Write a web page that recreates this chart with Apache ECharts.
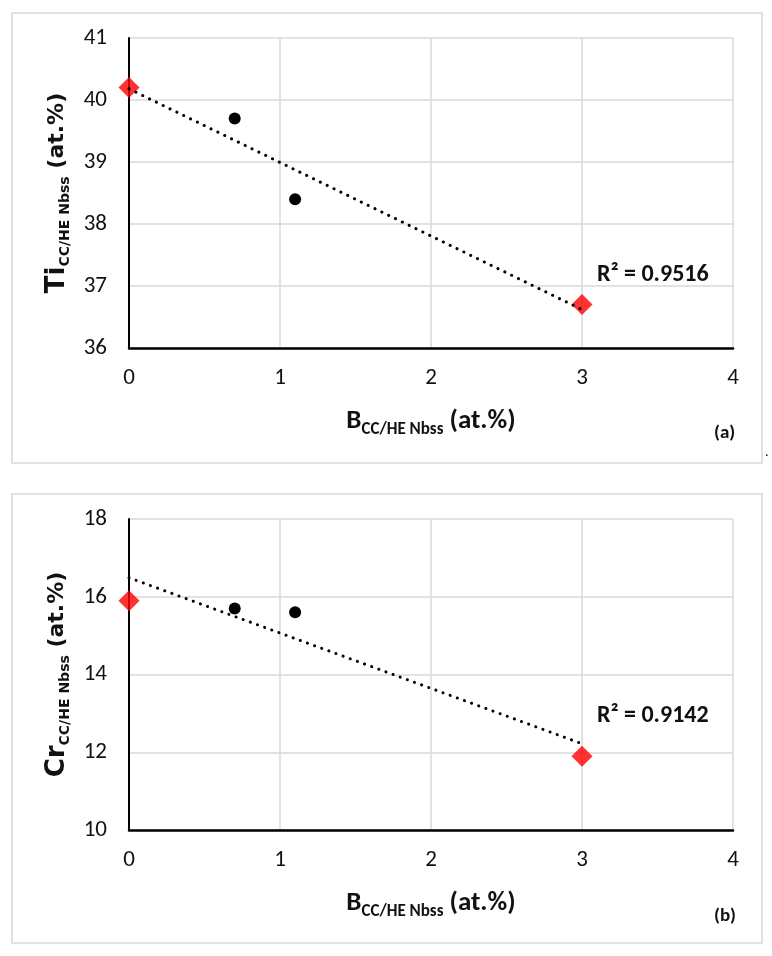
<!DOCTYPE html>
<html>
<head>
<meta charset="utf-8">
<script src="https://cdn.jsdelivr.net/npm/echarts@6/dist/echarts.min.js"></script>
<style>
html,body{margin:0;padding:0;background:#fff;}
#chart{width:772px;height:956px;}
</style>
</head>
<body>
<div id="chart"></div>
<script>
// ---- data ----
const xDiamond = [0, 3];
const xCircle = [0.7, 1.1];
const tiDiamond = [40.2, 36.7];
const tiCircle = [39.7, 38.4];
const crDiamond = [15.9, 11.9];
const crCircle = [15.7, 15.6];
const trendX = [0, 3];
const tiTrend = [40.18, 36.62];
const crTrend = [16.49, 12.22];
const r2Labels = ['R² = 0.9516', 'R² = 0.9142'];
const panelTags = ['(a)', '(b)'];
const yNames = ['Ti', 'Cr'];
const xAxisRange = [0, 4, 1];
const tiRange = [36, 41, 1];
const crRange = [10, 18, 2];

const calib = 'Carlito, Calibri, Lato, "Liberation Sans", sans-serif';
const verd = '"DejaVu Sans", Verdana, sans-serif';

function pairs(xs, ys) { return xs.map((x, i) => [x, ys[i]]); }

const chart = echarts.init(document.getElementById('chart'), null, {renderer: 'canvas'});

function xAxisDef(gi) {
  return {
    type: 'value', gridIndex: gi, min: xAxisRange[0], max: xAxisRange[1], interval: xAxisRange[2],
    axisLine: {show: true, onZero: false, lineStyle: {color: '#000', width: 2.5}},
    axisTick: {show: false},
    splitLine: {show: true, lineStyle: {color: '#d9d9d9', width: 1.5}},
    axisLabel: {fontFamily: calib, fontSize: 23, color: '#111', margin: 19},
    name: '{m|B}{s|CC/HE Nbss}{m| (at.%)}',
    nameLocation: 'middle', nameGap: 56,
    nameTextStyle: {
      rich: {
        m: {fontFamily: calib, fontWeight: 'bold', fontSize: 27, color: '#111', lineHeight: 34, verticalAlign: 'middle'},
        s: {fontFamily: calib, fontWeight: 'bold', fontSize: 17, color: '#111', lineHeight: 34, verticalAlign: 'bottom'}
      }
    }
  };
}
function yAxisDef(gi, range, nm) {
  return {
    type: 'value', gridIndex: gi, min: range[0], max: range[1], interval: range[2],
    axisLine: {show: true, onZero: false, lineStyle: {color: '#000', width: 2}},
    axisTick: {show: false},
    splitLine: {show: true, lineStyle: {color: '#d9d9d9', width: 1.5}},
    axisLabel: {fontFamily: calib, fontSize: 23, color: '#111', margin: 22},
    name: '{b|' + nm + '}{s|CC/HE Nbss}{m| (at.%)}',
    nameLocation: 'middle', nameRotate: 90, nameGap: 56,
    nameTextStyle: {
      rich: {
        b: {fontFamily: verd, fontWeight: 'bold', fontSize: 26, color: '#111', lineHeight: 32, verticalAlign: 'middle'},
        m: {fontFamily: verd, fontWeight: 'bold', fontSize: 22, color: '#111', lineHeight: 32, verticalAlign: 'middle'},
        s: {fontFamily: verd, fontWeight: 'bold', fontSize: 14, color: '#111', lineHeight: 32, verticalAlign: 'bottom'}
      }
    }
  };
}
function seriesFor(gi, dY, cY, tY) {
  return [
    {type: 'scatter', xAxisIndex: gi, yAxisIndex: gi, data: pairs(xDiamond, dY), symbol: 'diamond', symbolSize: 21,
      itemStyle: {color: '#ff0000'}, z: 3, silent: true},
    {type: 'scatter', xAxisIndex: gi, yAxisIndex: gi, data: pairs(xCircle, cY), symbol: 'circle', symbolSize: 12,
      itemStyle: {color: '#000', opacity: 1}, z: 3, silent: true},
    {type: 'line', xAxisIndex: gi, yAxisIndex: gi, data: pairs(trendX, tY), showSymbol: false, symbol: 'none',
      lineStyle: {color: '#000', width: 3, type: [0.1, 7.5], cap: 'round'}, z: 4, silent: true, animation: false}
  ];
}

const option = {
  backgroundColor: '#fff',
  animation: false,
  grid: [
    {left: 129, top: 38, width: 604, height: 310},
    {left: 129, top: 519, width: 604, height: 311}
  ],
  xAxis: [xAxisDef(0), xAxisDef(1)],
  yAxis: [yAxisDef(0, tiRange, yNames[0]), yAxisDef(1, crRange, yNames[1])],
  series: [].concat(seriesFor(0, tiDiamond, tiCircle, tiTrend), seriesFor(1, crDiamond, crCircle, crTrend)),
  graphic: [
    {type: 'rect', shape: {x: 12, y: 13, width: 750, height: 450}, style: {fill: 'none', stroke: '#d9d9d9', lineWidth: 1.5}, silent: true},
    {type: 'rect', shape: {x: 12, y: 494, width: 750, height: 449}, style: {fill: 'none', stroke: '#d9d9d9', lineWidth: 1.5}, silent: true},
    {type: 'text', x: 597, y: 275, style: {text: r2Labels[0], font: 'bold 24px ' + calib, fill: '#111', verticalAlign: 'middle'}},
    {type: 'text', x: 597, y: 716, style: {text: r2Labels[1], font: 'bold 24px ' + calib, fill: '#111', verticalAlign: 'middle'}},
    {type: 'text', x: 714, y: 433, style: {text: panelTags[0], font: 'bold 19px ' + calib, fill: '#111', verticalAlign: 'middle'}},
    {type: 'text', x: 714, y: 916, style: {text: panelTags[1], font: 'bold 19px ' + calib, fill: '#111', verticalAlign: 'middle'}},
    {type: 'text', x: 765, y: 452, style: {text: '.', font: '14px ' + calib, fill: '#111', verticalAlign: 'middle'}}
  ]
};
chart.setOption(option);
</script>
</body>
</html>
